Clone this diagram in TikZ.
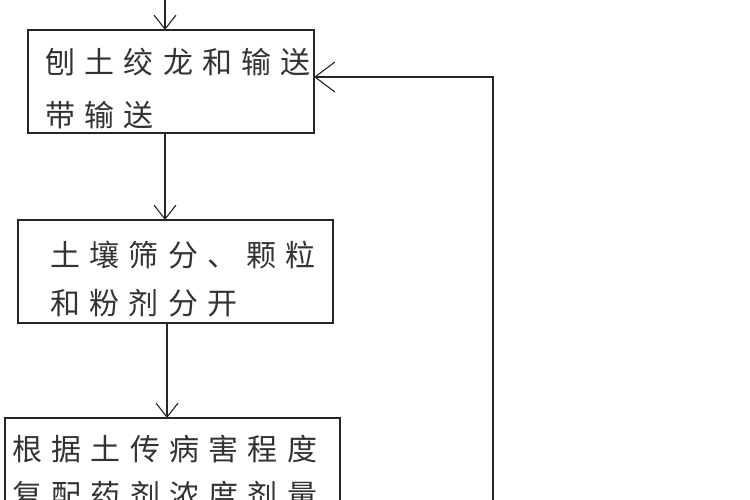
\documentclass[tikz,border=0pt]{standalone}
\usepackage{fontspec}
\usetikzlibrary{arrows.meta}
\newfontfamily\cjk[LetterSpace=31]{Noto Sans CJK SC}
\begin{document}
\begin{tikzpicture}[x=1pt,y=-1pt,
  box/.style={draw=black!85,line width=1.3pt},
  txt/.style={anchor=base west,inner sep=0pt,font=\cjk\fontsize{30}{30}\selectfont,text=black!80},
  arr/.style={draw=black!85,line width=1.2pt,-{Straight Barb[length=14pt,width=22pt,line width=1.1pt]}},
  bigarr/.style={draw=black!85,line width=1.2pt,-{Straight Barb[length=20pt,width=30pt,line width=1.1pt]}}]
\useasboundingbox[fill=white] (0,0) rectangle (750,500);
\draw[box] (28,30) rectangle (314,133);
\draw[box] (18,220) rectangle (333,323);
\draw[box] (5,418) rectangle (340,520);
\node[txt] (t1) at (45,74) {刨土绞龙和输送};
\node[txt] (t2) at (45,127) {带输送};
\node[txt] (t3) at (50,266) {土壤筛分、颗粒};
\node[txt] (t4) at (50,314) {和粉剂分开};
\node[txt] (t5) at (12,460) {根据土传病害程度};
\node[txt] (t6) at (12,506) {复配药剂浓度剂量};
\coordinate (top) at (165,-2);
\coordinate (b1t) at (165,30);
\coordinate (b1b) at (165,133);
\coordinate (b2t) at (165,220);
\coordinate (b2b) at (167,323);
\coordinate (b3t) at (167,418);
\coordinate (fb0) at (493,502);
\coordinate (fb1) at (493,77);
\coordinate (b1r) at (314,77);
\draw[arr] (top) -- (b1t);
\draw[arr] (b1b) -- (b2t);
\draw[arr] (b2b) -- (b3t);
\draw[bigarr] (fb0) -- (fb1) -- (b1r);
\end{tikzpicture}
\end{document}
